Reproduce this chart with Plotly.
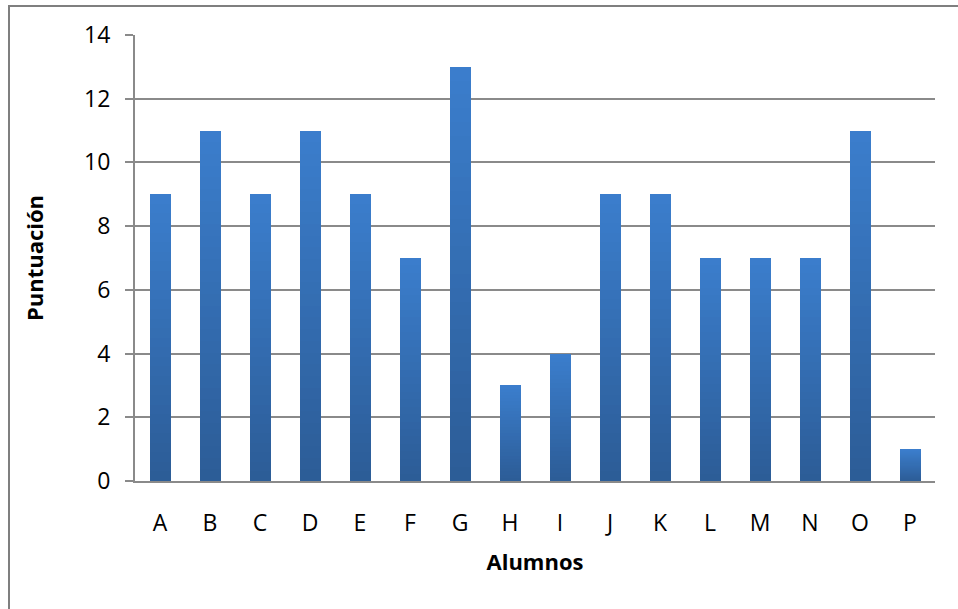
import plotly.graph_objects as go

# Scores per student
alumnos = ["A", "B", "C", "D", "E", "F", "G", "H", "I", "J", "K", "L", "M", "N", "O", "P"]
puntuacion = [9, 11, 9, 11, 9, 7, 13, 3, 4, 9, 9, 7, 7, 7, 11, 1]

y_ticks = [0, 2, 4, 6, 8, 10, 12, 14]

# Vertical gradient for each bar: dark at the base, lighter at the top
bottom_rgb = (44, 92, 150)
top_rgb = (59, 126, 205)
n_slices = 30

FONT = "Open Sans"
GRAY = "#8a8a8a"

fig = go.Figure()
for i in range(n_slices):
    t = (i + 0.5) / n_slices
    r, g, b = (round(bottom_rgb[k] + (top_rgb[k] - bottom_rgb[k]) * t) for k in range(3))
    fig.add_trace(go.Bar(
        x=alumnos,
        y=[v / n_slices for v in puntuacion],
        marker=dict(color=f"rgb({r},{g},{b})", line=dict(width=0)),
        showlegend=False,
        hoverinfo="skip",
    ))

fig.update_layout(
    width=958,
    height=609,
    barmode="stack",
    bargap=0.58,
    plot_bgcolor="white",
    paper_bgcolor="white",
    margin=dict(l=135, r=23, t=35, b=128),
    font=dict(family=FONT, size=23, color="black"),
    xaxis=dict(
        type="category",
        range=[-0.5, len(alumnos) - 0.5],
        showline=True,
        linecolor=GRAY,
        linewidth=2,
        ticks="",
        showgrid=False,
        tickfont=dict(size=23),
        ticklabelstandoff=20,
        title=dict(text="<b>Alumnos</b>", font=dict(size=22), standoff=18),
    ),
    yaxis=dict(
        range=[0, 14],
        tickvals=y_ticks,
        showline=True,
        linecolor=GRAY,
        linewidth=2,
        ticks="outside",
        ticklen=8,
        tickwidth=2,
        tickcolor=GRAY,
        showgrid=True,
        gridcolor=GRAY,
        gridwidth=2,
        zeroline=False,
        tickfont=dict(size=23),
        ticklabelstandoff=10,
        title=dict(text="<b>Puntuación</b>", font=dict(size=22), standoff=34),
    ),
    shapes=[
        # Chart area frame
        dict(type="rect", xref="paper", yref="paper",
             x0=(9 - 135) / 800, x1=(975 - 135) / 800,
             y0=(481 - 625) / 446, y1=(481 - 6) / 446,
             line=dict(color="#7f7f7f", width=2), fillcolor="rgba(0,0,0,0)",
             layer="below"),
    ],
)

fig.write_html("out.html")
